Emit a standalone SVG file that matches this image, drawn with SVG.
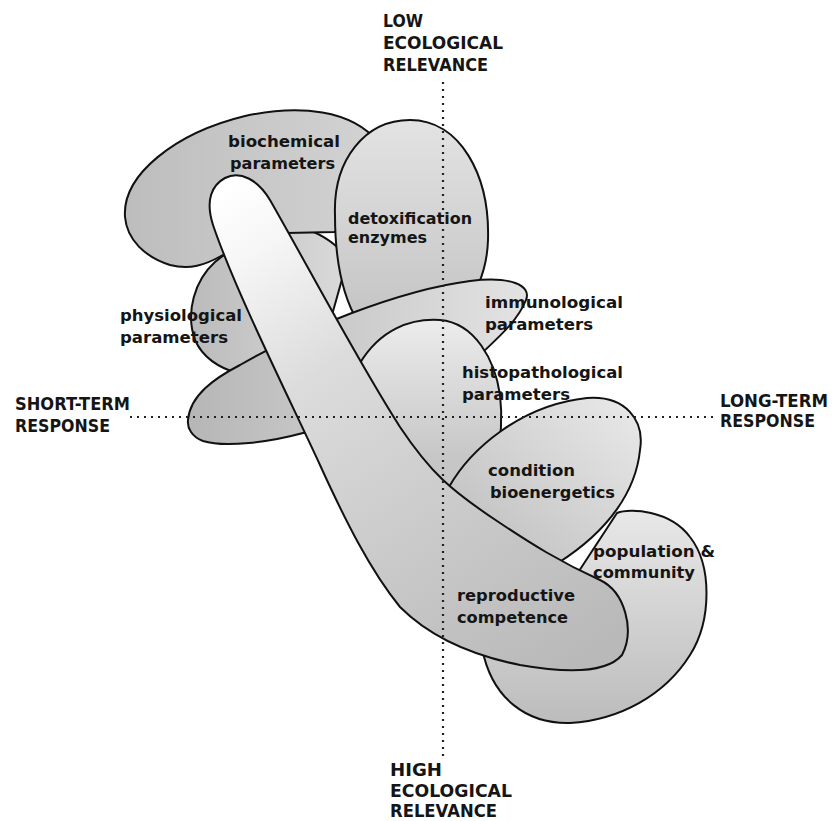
<svg xmlns="http://www.w3.org/2000/svg" width="832" height="821" viewBox="0 0 832 821">
<defs>
<style>
.sh{stroke:#111;stroke-width:2;stroke-linejoin:round}
.lbl{font-family:"DejaVu Sans","Liberation Sans",sans-serif;font-weight:bold;font-size:16px;fill:#151515}
.ax{font-family:"DejaVu Sans","Liberation Sans",sans-serif;font-weight:bold;font-size:17px;fill:#151515}
.dot{fill:none;stroke:#222;stroke-width:2.2;stroke-dasharray:2 5}
</style>
<linearGradient id="gTube" gradientUnits="userSpaceOnUse" x1="237" y1="180" x2="560" y2="670">
<stop offset="0" stop-color="#ffffff"/><stop offset="0.12" stop-color="#f6f6f6"/><stop offset="0.35" stop-color="#dcdcdc"/><stop offset="0.7" stop-color="#c9c9c9"/><stop offset="1" stop-color="#b9b9b9"/>
</linearGradient>
<linearGradient id="gBio" gradientUnits="userSpaceOnUse" x1="125" y1="0" x2="370" y2="0">
<stop offset="0" stop-color="#bdbdbd"/><stop offset="1" stop-color="#d2d2d2"/>
</linearGradient>
<linearGradient id="gDetox" gradientUnits="userSpaceOnUse" x1="0" y1="120" x2="0" y2="310">
<stop offset="0" stop-color="#e3e3e3"/><stop offset="1" stop-color="#c6c6c6"/>
</linearGradient>
<linearGradient id="gPhys" gradientUnits="userSpaceOnUse" x1="188" y1="0" x2="340" y2="0">
<stop offset="0" stop-color="#bababa"/><stop offset="1" stop-color="#d9d9d9"/>
</linearGradient>
<linearGradient id="gImm" gradientUnits="userSpaceOnUse" x1="188" y1="0" x2="525" y2="0">
<stop offset="0" stop-color="#b6b6b6"/><stop offset="1" stop-color="#e3e3e3"/>
</linearGradient>
<linearGradient id="gHisto" gradientUnits="userSpaceOnUse" x1="0" y1="320" x2="0" y2="460">
<stop offset="0" stop-color="#ececec"/><stop offset="1" stop-color="#c6c6c6"/>
</linearGradient>
<linearGradient id="gCond" gradientUnits="userSpaceOnUse" x1="620" y1="400" x2="490" y2="545">
<stop offset="0" stop-color="#e7e7e7"/><stop offset="1" stop-color="#c3c3c3"/>
</linearGradient>
<linearGradient id="gPop" gradientUnits="userSpaceOnUse" x1="0" y1="510" x2="0" y2="723">
<stop offset="0" stop-color="#e8e8e8"/><stop offset="1" stop-color="#bcbcbc"/>
</linearGradient>
</defs>
<rect width="832" height="821" fill="#ffffff"/>

<g id="physiological-parameters">
<path class="sh" fill="url(#gPhys)" d="M 215,262 C 195,280 185,312 195,340 C 203,358 218,368 240,374 L 330,322 L 348,258 C 336,244 320,232 300,228 C 272,226 238,243 215,262 Z"/>
</g>

<g id="biochemical-parameters">
<path class="sh" fill="url(#gBio)" d="M 125,217 C 122,175 175,133 245,116 C 300,104 352,110 378,142 L 382,222 L 334,232 L 287,233 C 258,238 236,250 221,256 C 205,265 190,270 170,265 C 145,257 127,240 125,217 Z"/>
</g>

<g id="detoxification-enzymes">
<path class="sh" fill="url(#gDetox)" d="M 335,215 C 333,160 365,120 410,120 C 460,120 490,175 488,240 C 487,275 472,300 462,312 L 358,322 C 340,292 335,255 335,215 Z"/>
</g>

<g id="immunological-parameters">
<path class="sh" fill="url(#gImm)" d="M 188,420 C 190,395 215,378 240,365 C 300,330 400,290 470,281 C 510,276 532,285 526,300 C 518,320 500,336 483,352 L 440,420 L 303,433 C 270,442 225,448 203,441 C 192,437 187,428 188,420 Z"/>
</g>

<g id="histopathological-parameters">
<path class="sh" fill="url(#gHisto)" d="M 360,363 C 380,330 410,318 440,320 C 475,323 495,360 500,395 C 503,420 501,440 496,462 L 475,500 L 440,495 L 340,372 Z"/>
</g>

<g id="population-community">
<path class="sh" fill="url(#gPop)" d="M 617,513 C 630,508 670,510 690,537 C 712,565 712,620 690,655 C 665,695 620,720 570,723 C 528,724 492,700 482,648 L 560,600 Z"/>
</g>

<g id="condition-bioenergetics">
<path class="sh" fill="url(#gCond)" d="M 449,487 C 470,450 520,405 587,398 C 625,395 645,420 640,450 C 636,490 610,530 558,563 L 500,535 L 440,492 Z"/>
</g>

<g id="reproductive-competence">
<path class="sh" fill="url(#gTube)" d="M 225,178 C 240,170 258,180 270,200 C 310,270 360,365 400,427 C 430,472 450,490 500,523 C 530,543 560,562 600,580 C 625,592 635,630 622,655 C 605,675 560,672 520,665 C 470,655 430,637 400,607 C 370,570 345,520 320,465 C 290,400 235,290 213,225 C 205,200 212,185 225,178 Z"/>
</g>

<g id="axes">
<line class="dot" x1="443" y1="82" x2="443" y2="757"/>
<line class="dot" x1="130" y1="417" x2="715" y2="417"/>
</g>

<g id="labels">
<text class="lbl" x="228" y="147" textLength="112" lengthAdjust="spacingAndGlyphs">biochemical</text>
<text class="lbl" x="230" y="169" textLength="105" lengthAdjust="spacingAndGlyphs">parameters</text>
<text class="lbl" x="348" y="224" textLength="124" lengthAdjust="spacingAndGlyphs">detoxification</text>
<text class="lbl" x="348" y="243" textLength="79" lengthAdjust="spacingAndGlyphs">enzymes</text>
<text class="lbl" x="120" y="321" textLength="122" lengthAdjust="spacingAndGlyphs">physiological</text>
<text class="lbl" x="120" y="343" textLength="108" lengthAdjust="spacingAndGlyphs">parameters</text>
<text class="lbl" x="485" y="308" textLength="138" lengthAdjust="spacingAndGlyphs">immunological</text>
<text class="lbl" x="485" y="330" textLength="108" lengthAdjust="spacingAndGlyphs">parameters</text>
<text class="lbl" x="462" y="378" textLength="161" lengthAdjust="spacingAndGlyphs">histopathological</text>
<text class="lbl" x="462" y="400" textLength="108" lengthAdjust="spacingAndGlyphs">parameters</text>
<text class="lbl" x="488" y="476" textLength="87" lengthAdjust="spacingAndGlyphs">condition</text>
<text class="lbl" x="490" y="498" textLength="125" lengthAdjust="spacingAndGlyphs">bioenergetics</text>
<text class="lbl" x="593" y="557" textLength="122" lengthAdjust="spacingAndGlyphs">population &amp;</text>
<text class="lbl" x="593" y="578" textLength="102" lengthAdjust="spacingAndGlyphs">community</text>
<text class="lbl" x="457" y="601" textLength="118" lengthAdjust="spacingAndGlyphs">reproductive</text>
<text class="lbl" x="457" y="623" textLength="111" lengthAdjust="spacingAndGlyphs">competence</text>

<text class="ax" x="383" y="27" textLength="40" lengthAdjust="spacingAndGlyphs">LOW</text>
<text class="ax" x="383" y="49" textLength="120" lengthAdjust="spacingAndGlyphs">ECOLOGICAL</text>
<text class="ax" x="383" y="71" textLength="105" lengthAdjust="spacingAndGlyphs">RELEVANCE</text>
<text class="ax" x="390" y="776" textLength="52" lengthAdjust="spacingAndGlyphs">HIGH</text>
<text class="ax" x="390" y="797" textLength="122" lengthAdjust="spacingAndGlyphs">ECOLOGICAL</text>
<text class="ax" x="390" y="817" textLength="107" lengthAdjust="spacingAndGlyphs">RELEVANCE</text>
<text class="ax" x="15" y="410" textLength="115" lengthAdjust="spacingAndGlyphs">SHORT-TERM</text>
<text class="ax" x="15" y="432" textLength="95" lengthAdjust="spacingAndGlyphs">RESPONSE</text>
<text class="ax" x="720" y="407" textLength="108" lengthAdjust="spacingAndGlyphs">LONG-TERM</text>
<text class="ax" x="720" y="427" textLength="95" lengthAdjust="spacingAndGlyphs">RESPONSE</text>
</g>
</svg>
